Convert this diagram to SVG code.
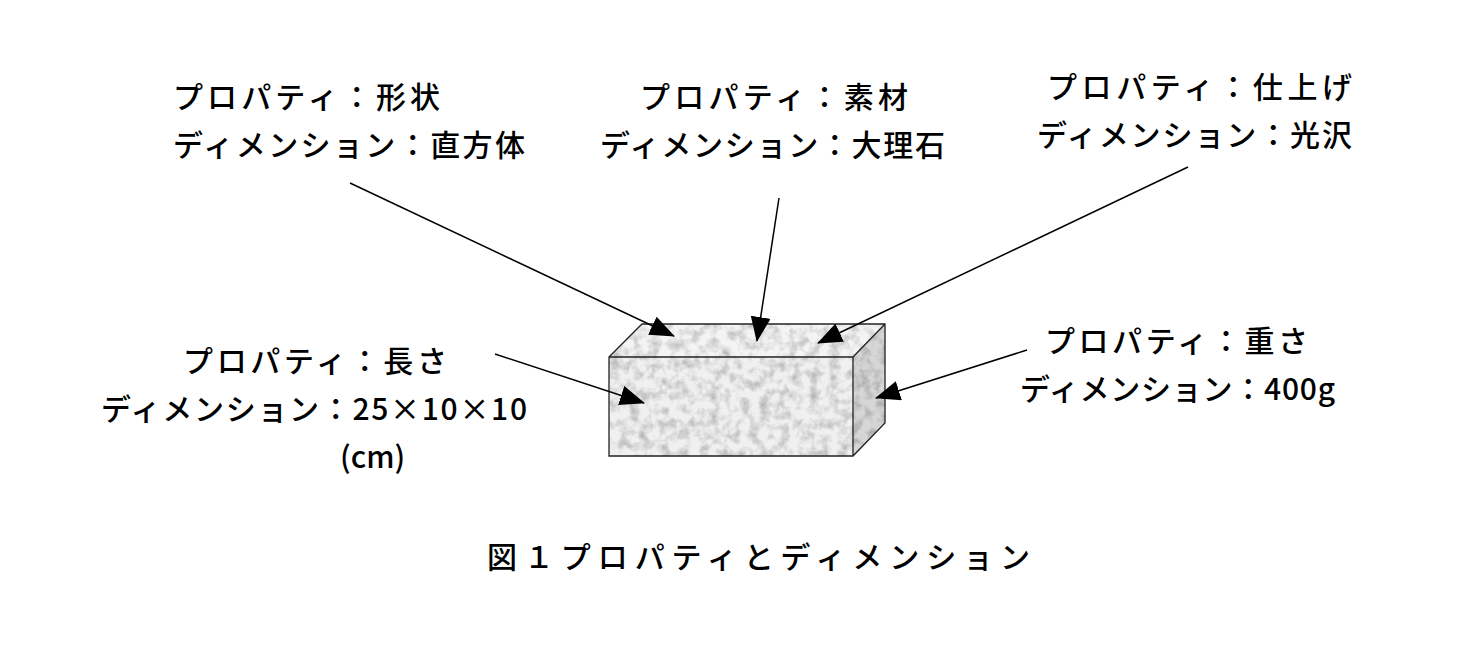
<svg xmlns="http://www.w3.org/2000/svg" width="1465" height="645" viewBox="0 0 1465 645">
<style>
text{font-family:"Noto Sans CJK JP","Noto Sans",sans-serif;font-size:30px;font-weight:500;fill:#000}
.c{stroke:#000;stroke-width:1.5;fill:none;marker-end:url(#ah)}
.e{stroke:#222;stroke-width:1.3}
</style>
<defs>
<marker id="ah" markerWidth="25" markerHeight="20" refX="24" refY="10" orient="auto" markerUnits="userSpaceOnUse" viewBox="0 0 25 20"><path d="M0,0L25,10L0,20z" fill="#000"/></marker>
<filter id="m" x="0" y="0" width="100%" height="100%"><feTurbulence type="fractalNoise" baseFrequency="0.1" numOctaves="3" seed="4"/><feColorMatrix type="matrix" values="0 0 0 0 0  0 0 0 0 0  0 0 0 0 0  0 0 0 -0.5 0.3"/><feComposite in2="SourceGraphic" operator="in"/></filter>
</defs>
<rect width="1465" height="645" fill="#fff"/>
<g id="block">
<polygon points="609,357 642,324 885,324 853,357" fill="#f4f4f4"/>
<polygon points="609,357 642,324 885,324 853,357" fill="#fff" filter="url(#m)"/>
<rect x="609" y="357" width="244" height="99" fill="#f0f0f0"/>
<rect x="609" y="357" width="244" height="99" fill="#fff" filter="url(#m)"/>
<polygon points="853,357 885,324 885,423 853,456" fill="#d6d6d6"/>
<polygon points="853,357 885,324 885,423 853,456" fill="#fff" filter="url(#m)"/>
<path class="e" fill="none" d="M609,357L642,324L885,324L885,423L853,456L609,456Z M609,357H853L885,324 M853,357V456"/>
</g>
<g id="connectors">
<path class="c" d="M350,183L674,336"/>
<path class="c" d="M779,198L757,341"/>
<path class="c" d="M1188,167L818,343"/>
<path class="c" d="M495,354L644,403"/>
<path class="c" d="M1027,350L876,398"/>
</g>
<g id="n1"><text x="173" y="108" textLength="267">プロパティ：形状</text><text x="173" y="156" textLength="352">ディメンション：直方体</text></g>
<g id="n2"><text x="640" y="108" textLength="268">プロパティ：素材</text><text x="600" y="156" textLength="345">ディメンション：大理石</text></g>
<g id="n3"><text x="1047" y="98" textLength="305">プロパティ：仕上げ</text><text x="1037" y="146" textLength="315">ディメンション：光沢</text></g>
<g id="n4"><text x="183" y="372" textLength="264">プロパティ：長さ</text><text x="101" y="420" textLength="426">ディメンション：25×10×10</text><text x="340" y="468">(cm)</text></g>
<g id="n5"><text x="1045" y="352" textLength="263">プロパティ：重さ</text><text x="1020" y="400" textLength="315">ディメンション：400g</text></g>
<g id="caption"><text x="487" y="568" textLength="543">図１プロパティとディメンション</text></g>
</svg>
